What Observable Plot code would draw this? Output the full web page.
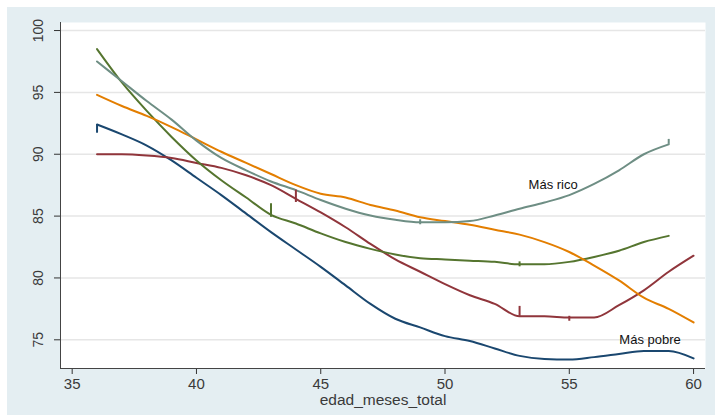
<!DOCTYPE html>
<html>
<head>
<meta charset="utf-8">
<script src="https://cdn.jsdelivr.net/npm/d3@7"></script>
<script src="https://cdn.jsdelivr.net/npm/@observablehq/plot@0.6"></script>
<style>
  html, body { margin: 0; padding: 0; background: #fff; }
  svg { display: block; font-family: "Liberation Sans", Arial, sans-serif; }
</style>
</head>
<body>
<div id="chart"></div>
<script>
const months = [36,37,38,39,40,41,42,43,44,45,46,47,48,49,50,51,52,53,54,55,56,57,58,59,60];
const seriesNames = ["q1","q2","q3","q4","q5"];
const seriesColors = ["#1a476f","#90353b","#55752f","#e37e00","#6e8e84"];
const q1 = [92.4,91.6,90.7,89.5,88.1,86.7,85.2,83.7,82.3,80.9,79.4,77.9,76.7,76.0,75.3,74.9,74.3,73.7,73.45,73.4,73.6,73.85,74.1,74.1,73.5];
const q2 = [90.0,90.0,89.9,89.7,89.3,88.9,88.3,87.5,86.4,85.3,84.1,82.75,81.5,80.5,79.5,78.6,77.9,76.9,76.9,76.8,76.8,77.8,79.0,80.5,81.8];
const q3 = [98.5,95.8,93.5,91.4,89.5,87.9,86.5,85.1,84.4,83.6,82.9,82.35,81.9,81.6,81.5,81.4,81.3,81.1,81.1,81.3,81.7,82.2,82.9,83.4,null];
const q4 = [94.8,93.9,93.1,92.2,91.2,90.2,89.3,88.4,87.5,86.8,86.5,85.9,85.45,84.9,84.6,84.3,83.9,83.5,82.9,82.1,81.0,79.8,78.4,77.5,76.4];
const q5 = [97.5,95.9,94.3,92.8,91.1,89.7,88.7,87.8,87.1,86.3,85.6,85.05,84.7,84.5,84.5,84.6,85.05,85.6,86.1,86.7,87.6,88.7,90.0,90.8,null];
// small vertical steps visible in the smoothed curves: [series, month, from, to]
const jumps = [["q1",36,91.7,92.4],["q3",43,84.9,86.0],["q2",44,86.1,87.1],["q2",53,76.9,77.7],["q2",55,76.5,76.9],["q5",59,90.8,91.2],["q5",49,84.3,84.7],["q3",53,80.9,81.3]];
const xTicks = [35,40,45,50,55,60];
const yTicks = [75,80,85,90,95,100];
const labels = [{x:54.35,y:87.55,text:"Más rico"},{x:58.25,y:75.0,text:"Más pobre"}];
const xTitle = "edad_meses_total";

const valuesBySeries = {q1,q2,q3,q4,q5};
const rows = [];
for (const s of seriesNames) {
  valuesBySeries[s].forEach((v,i) => { if (v != null) rows.push({series:s, month:months[i], value:v}); });
}
const jumpRows = jumps.map(([series,month,y1,y2]) => ({series,month,y1,y2}));

const xDom = [34.53, 60.48];
const yDom = [72.68, 100.65];

const chart = Plot.plot({
  width: 717,
  height: 415,
  marginLeft: 60,
  marginRight: 12,
  marginTop: 22,
  marginBottom: 47,
  style: {fontFamily: '"Liberation Sans", Arial, sans-serif', background: "transparent"},
  x: {domain: xDom, label: null},
  y: {domain: yDom, label: null},
  color: {domain: seriesNames, range: seriesColors},
  marks: [
    Plot.frame({fill: "white", stroke: null}),
    Plot.gridY(yTicks, {stroke: "#e6e6e6", strokeOpacity: 1, strokeWidth: 1.5}),
    Plot.axisY({ticks: yTicks, tickSize: 6, tickFormat: () => "", stroke: "#333"}),
    Plot.text(yTicks, {y: d => d, frameAnchor: "left", dx: -22, rotate: -90, text: d => String(d), fontSize: 14, fill: "#3a3a3a", textAnchor: "middle"}),
    Plot.axisX({ticks: xTicks, tickSize: 6, tickPadding: 4, fontSize: 15, tickFormat: d => String(d), stroke: "#333", fill: "#3a3a3a"}),
    Plot.text([xTitle], {frameAnchor: "bottom", x: (xDom[0]+xDom[1])/2, dy: 36, text: d => d, fontSize: 15.5, fill: "#3a3a3a", textAnchor: "middle"}),
    Plot.ruleX([xDom[0]], {stroke: "#444", strokeWidth: 1}),
    Plot.ruleY([yDom[0]], {stroke: "#444", strokeWidth: 1}),
    Plot.line(rows, {x: "month", y: "value", z: "series", stroke: "series", strokeWidth: 2, curve: "monotone-x"}),
    Plot.ruleX(jumpRows, {x: "month", y1: "y1", y2: "y2", stroke: "series", strokeWidth: 2}),
    Plot.text(labels, {x: "x", y: "y", text: "text", fontSize: 13, fill: "#111", textAnchor: "middle"})
  ]
});

d3.select(chart).insert("rect", ":first-child")
  .attr("x", 7).attr("y", 7).attr("width", 708).attr("height", 408)
  .attr("fill", "#e4eef2");
document.getElementById("chart").appendChild(chart);
</script>
</body>
</html>
